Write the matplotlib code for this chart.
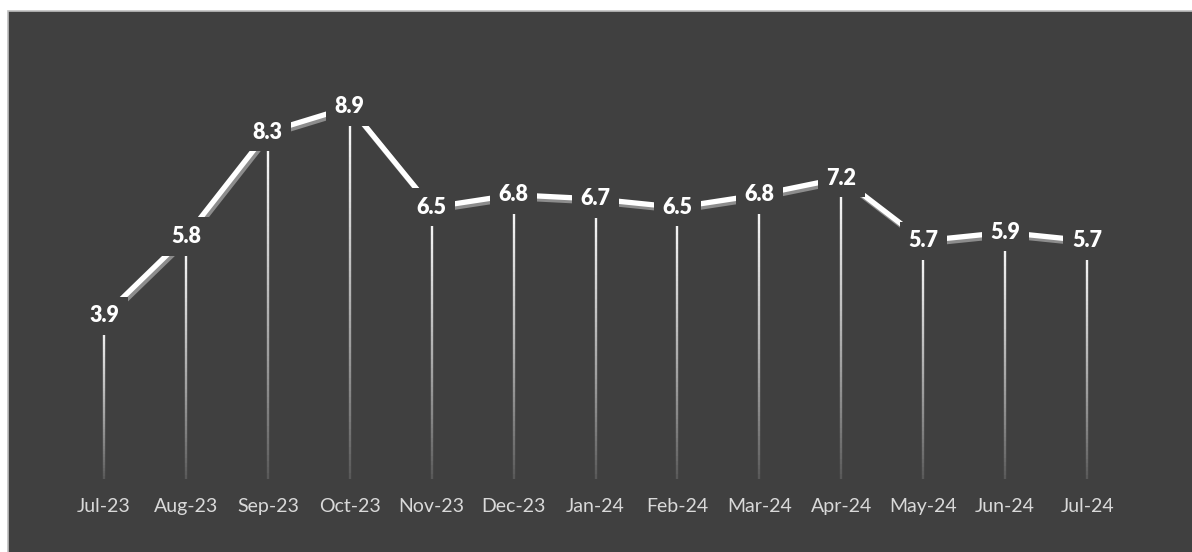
import numpy as np
import matplotlib.pyplot as plt
import matplotlib.patheffects as pe
from matplotlib.collections import LineCollection
from matplotlib.patches import Rectangle

# data #

months = ['Jul-23', 'Aug-23', 'Sep-23', 'Oct-23', 'Nov-23', 'Dec-23', 'Jan-24',
          'Feb-24', 'Mar-24', 'Apr-24', 'May-24', 'Jun-24', 'Jul-24']
values = [3.9, 5.8, 8.3, 8.9, 6.5, 6.8, 6.7, 6.5, 6.8, 7.2, 5.7, 5.9, 5.7]

bg = '#404040'
W, H = 1192, 552

fig = plt.figure(figsize=(W / 100, H / 100), dpi=100)
fig.patch.set_facecolor('white')
fig.add_artist(Rectangle((8 / W, -0.02), 1.02 - 8 / W, 1.02 - 11 / H, transform=fig.transFigure,
                         facecolor=bg, edgecolor='#bfbfbf', linewidth=1.2, zorder=-5))

# plot area #
left, right, y0, ytop = 63, 1128, 479, 61
ax = fig.add_axes([left / W, (H - y0) / H, (right - left) / W, (y0 - ytop) / H])
ax.set_facecolor('none')
ax.set_zorder(2)
for s in ax.spines.values():
    s.set_visible(False)

x = np.arange(len(months))
ax.set_xlim(-0.5, len(months) - 0.5)
ax.set_ylim(0, 10)

# drop lines, fading to the bottom #
for xi, v in zip(x, values):
    ys = np.linspace(v, 0, 60)
    segs = [[(xi, ys[i]), (xi, ys[i + 1])] for i in range(len(ys) - 1)]
    alphas = np.linspace(1.0, 0.08, len(segs)) ** 0.8
    cols = [(1, 1, 1, a) for a in alphas]
    ax.add_collection(LineCollection(segs, colors=cols, linewidths=1.7, zorder=1))

# main line with shadow #
ax.plot(x, values, color='white', linewidth=3.8, solid_capstyle='butt', zorder=3,
        path_effects=[pe.SimpleLineShadow(offset=(1.5, -2.2), shadow_color='#8c8c8c', alpha=1),
                      pe.Normal()])

# data labels #
for xi, v in zip(x, values):
    ax.text(xi, v, f'{v:.1f}', ha='center', va='center', color='white', fontsize=15.5,
            fontweight='heavy', family=['Lato', 'DejaVu Sans'], zorder=5,
            bbox=dict(boxstyle='square,pad=0.4', facecolor=bg, edgecolor='none'))

ax.set_xticks(x)
ax.set_xticklabels(months, color='#d9d9d9', fontsize=14, family=['Lato', 'DejaVu Sans'])
for t in ax.get_xticklabels():
    t.set_fontstretch('expanded')
ax.tick_params(axis='x', length=0, pad=14)
ax.set_yticks([])

plt.savefig('out.png', dpi=100)
